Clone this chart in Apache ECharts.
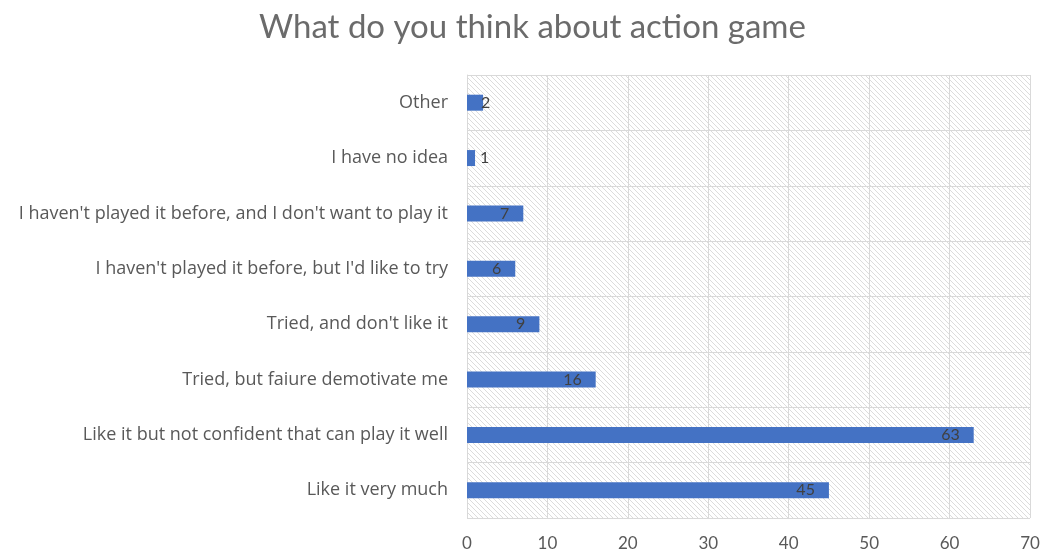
<!DOCTYPE html>
<html>
<head>
<meta charset="utf-8">
<script src="https://cdn.jsdelivr.net/npm/echarts@6/dist/echarts.min.js"></script>
<style>
html,body{margin:0;padding:0;background:#fff;}
#chart{width:1045px;height:554px;}
</style>
</head>
<body>
<div id="chart"></div>
<script>
// Survey answers, listed bottom to top as drawn on the category axis
const categories = [
  'Like it very much',
  'Like it but not confident that can play it well',
  'Tried, but faiure demotivate me',
  'Tried, and don\'t like it',
  'I haven\'t played it before, but I\'d like to try',
  'I haven\'t played it before, and I don\'t want to play it',
  'I have no idea',
  'Other'
];
const counts = [45, 63, 16, 9, 6, 7, 1, 2];
const titleText = 'What do you think about action game';

// Diagonal hatch fill for the plot background
function hatch() {
  const s = 10;
  const c = document.createElement('canvas');
  c.width = s; c.height = s;
  const g = c.getContext('2d');
  g.fillStyle = '#ffffff';
  g.fillRect(0, 0, s, s);
  g.strokeStyle = '#dcdcdc';
  g.lineWidth = 1;
  for (let k = -s; k <= s; k += 5) {
    g.beginPath();
    g.moveTo(k, 0);
    g.lineTo(k + s, s);
    g.stroke();
  }
  return c;
}

const font = 'Lato, "Open Sans", sans-serif';
const labelFont = '"Open Sans", Lato, sans-serif';
const chart = echarts.init(document.getElementById('chart'));
chart.setOption({
  animation: false,
  title: {
    text: titleText,
    left: 254,
    top: 6,
    textStyle: { color: '#6b6b6b', fontSize: 33, fontWeight: 'normal', fontFamily: font }
  },
  grid: {
    left: 467, right: 15, top: 75, bottom: 36,
    show: true,
    borderWidth: 0,
    backgroundColor: { image: hatch(), repeat: 'repeat' }
  },
  xAxis: {
    type: 'value',
    min: 0, max: 70, interval: 10,
    axisLine: { show: false },
    axisTick: { show: false },
    splitLine: { show: true, lineStyle: { color: '#d9d9d9', width: 1 } },
    axisLabel: { color: '#595959', fontSize: 17, fontFamily: font, margin: 17 }
  },
  yAxis: {
    type: 'category',
    data: categories,
    axisLine: { show: true, lineStyle: { color: '#d9d9d9' } },
    axisTick: { show: false },
    splitLine: { show: true, lineStyle: { color: '#d9d9d9', width: 1 } },
    axisLabel: { color: '#595959', fontSize: 18, fontFamily: labelFont, margin: 19 }
  },
  series: [{
    type: 'bar',
    data: counts.map(v => ({
      value: v,
      label: v <= 2 ? { position: 'right', distance: v === 2 ? -2 : 5 } : {}
    })),
    barWidth: 16,
    itemStyle: { color: '#4472C4' },
    label: {
      show: true,
      position: 'insideRight',
      distance: 14,
      color: '#404040',
      fontSize: 16,
      fontFamily: font
    }
  }]
});
</script>
</body>
</html>
